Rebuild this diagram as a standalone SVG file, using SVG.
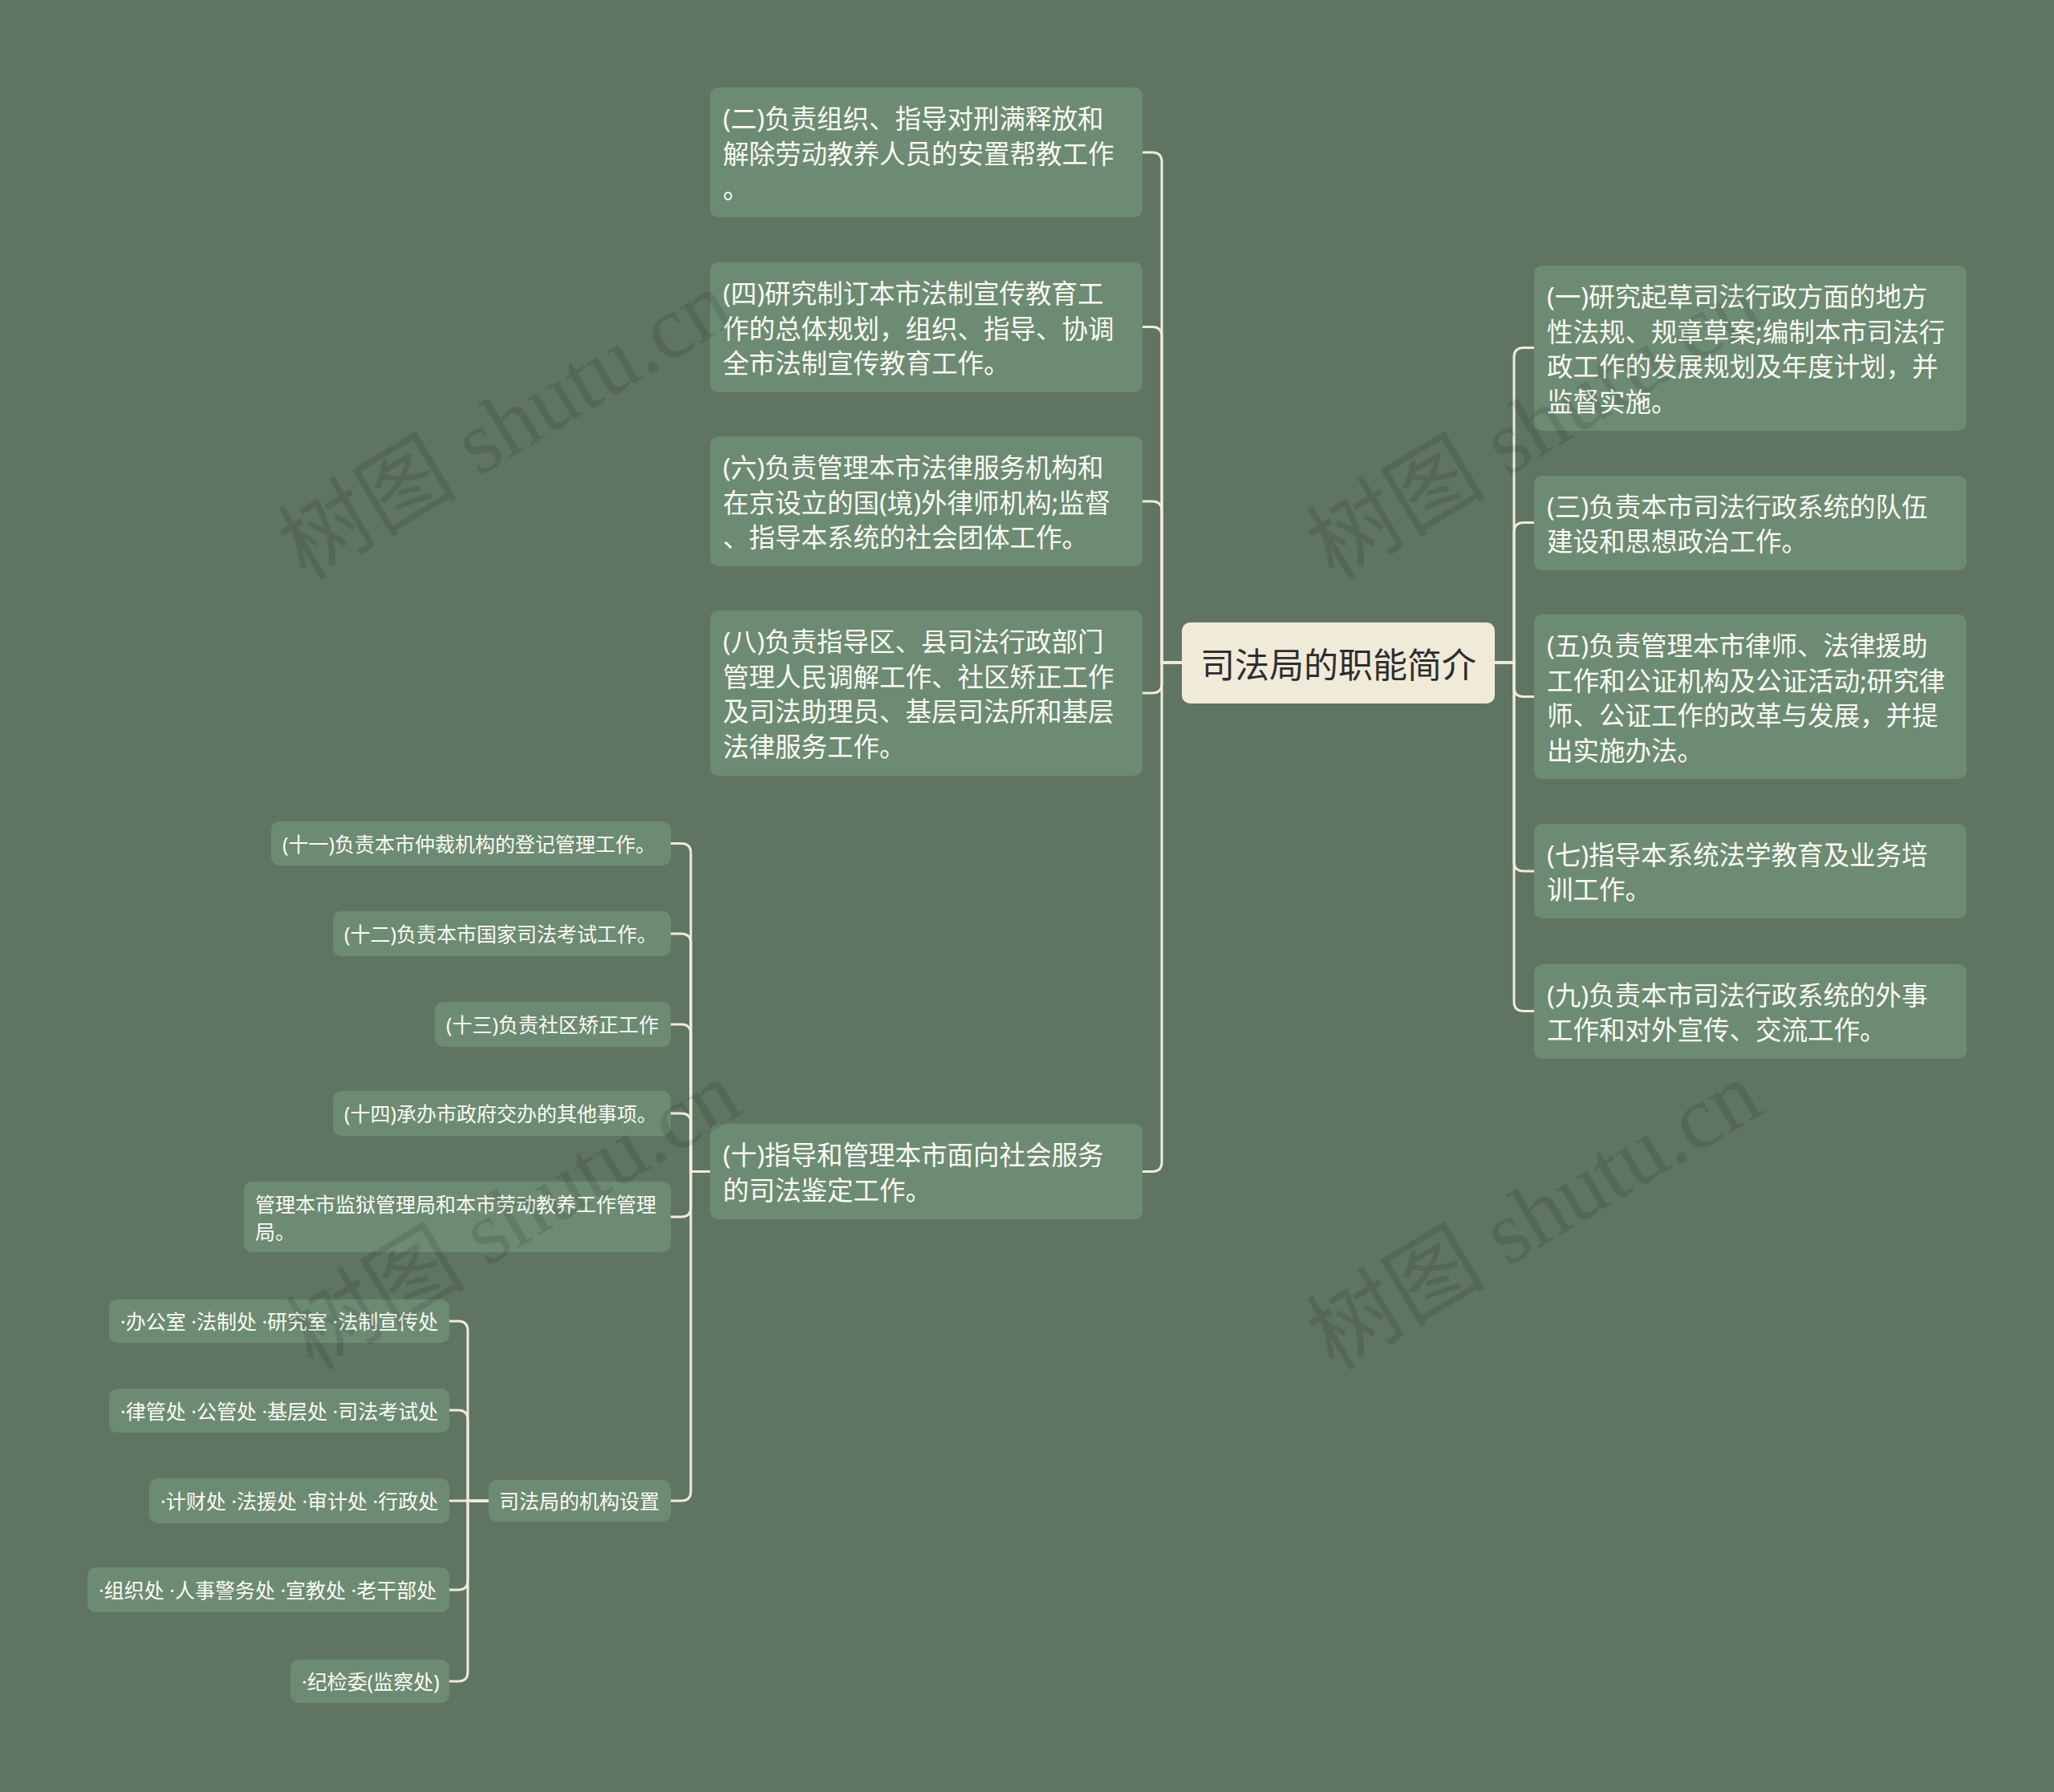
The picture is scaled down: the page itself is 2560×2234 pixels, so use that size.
<svg xmlns="http://www.w3.org/2000/svg" width="2560" height="2234" viewBox="0 0 2560 2234">
<style>
.bg{fill:#607462}
.n rect{fill:#6d8b73}
.t{font-family:"Noto Sans","Noto Sans CJK SC",sans-serif;fill:#fbfbf3;dominant-baseline:central}
.b{font-size:32.5px}
.s{font-size:25px}
.root rect{fill:#f0ead9}
.root text{font-family:"Noto Sans CJK SC","Noto Sans",sans-serif;font-size:43px;fill:#2e2e2e;dominant-baseline:central;text-anchor:middle}
.c path{fill:none;stroke:#f0ebdb;stroke-width:3;stroke-linecap:round}
.wm{font-family:"Liberation Serif","Noto Sans CJK SC",serif;font-size:112px;fill:#000;opacity:0.1;text-anchor:middle;dominant-baseline:central}
</style>
<rect class="bg" x="0" y="0" width="2560" height="2234"/>
<g class="c" id="connectors">
<path d="M1473 826 H1448 V202 Q1448 190 1436 190 H1425"/>
<path d="M1473 826 H1448 V419.5 Q1448 407.5 1436 407.5 H1425"/>
<path d="M1473 826 H1448 V637 Q1448 625 1436 625 H1425"/>
<path d="M1473 826 H1448 V852 Q1448 864 1436 864 H1425"/>
<path d="M1473 826 H1448 V1448.5 Q1448 1460.5 1436 1460.5 H1425"/>
<path d="M1863 826 H1887 V445.5 Q1887 433.5 1899 433.5 H1912"/>
<path d="M1863 826 H1887 V663.5 Q1887 651.5 1899 651.5 H1912"/>
<path d="M1863 826 H1887 V856.5 Q1887 868.5 1899 868.5 H1912"/>
<path d="M1863 826 H1887 V1074 Q1887 1086 1899 1086 H1912"/>
<path d="M1863 826 H1887 V1248.5 Q1887 1260.5 1899 1260.5 H1912"/>
<path d="M885 1460.5 H861 V1063.5 Q861 1051.5 849 1051.5 H836"/>
<path d="M885 1460.5 H861 V1176 Q861 1164 849 1164 H836"/>
<path d="M885 1460.5 H861 V1289 Q861 1277 849 1277 H836"/>
<path d="M885 1460.5 H861 V1400 Q861 1388 849 1388 H836"/>
<path d="M885 1460.5 H861 V1505 Q861 1517 849 1517 H836"/>
<path d="M885 1460.5 H861 V1859 Q861 1871 849 1871 H836"/>
<path d="M609 1871 H583 V1659 Q583 1647 571 1647 H560"/>
<path d="M609 1871 H583 V1770 Q583 1758 571 1758 H560"/>
<path d="M609 1871 H560"/>
<path d="M609 1871 H583 V1970 Q583 1982 571 1982 H560"/>
<path d="M609 1871 H583 V2084 Q583 2096 571 2096 H560"/>
</g>
<g class="root" id="node-root">
<rect x="1473" y="776" width="390" height="101" rx="10"/>
<text x="1668" y="826">司法局的职能简介</text>
</g>
<g class="n" id="node-2">
<rect x="885" y="109" width="539" height="162" rx="10"/>
<text class="t b" x="901"><tspan x="901" y="147">(二)负责组织、指导对刑满释放和</tspan><tspan x="901" y="190.5">解除劳动教养人员的安置帮教工作</tspan><tspan x="901" y="234">。</tspan></text>
</g>
<g class="n" id="node-4">
<rect x="885" y="327" width="539" height="162" rx="10"/>
<text class="t b" x="901"><tspan x="901" y="365">(四)研究制订本市法制宣传教育工</tspan><tspan x="901" y="408.5">作的总体规划，组织、指导、协调</tspan><tspan x="901" y="452">全市法制宣传教育工作。</tspan></text>
</g>
<g class="n" id="node-6">
<rect x="885" y="544" width="539" height="162" rx="10"/>
<text class="t b" x="901"><tspan x="901" y="582">(六)负责管理本市法律服务机构和</tspan><tspan x="901" y="625.5">在京设立的国(境)外律师机构;监督</tspan><tspan x="901" y="669">、指导本系统的社会团体工作。</tspan></text>
</g>
<g class="n" id="node-8">
<rect x="885" y="761" width="539" height="206" rx="10"/>
<text class="t b" x="901"><tspan x="901" y="799">(八)负责指导区、县司法行政部门</tspan><tspan x="901" y="842.5">管理人民调解工作、社区矫正工作</tspan><tspan x="901" y="886">及司法助理员、基层司法所和基层</tspan><tspan x="901" y="929.5">法律服务工作。</tspan></text>
</g>
<g class="n" id="node-10">
<rect x="885" y="1401" width="539" height="119" rx="10"/>
<text class="t b" x="901"><tspan x="901" y="1439">(十)指导和管理本市面向社会服务</tspan><tspan x="901" y="1482.5">的司法鉴定工作。</tspan></text>
</g>
<g class="n" id="node-1">
<rect x="1912" y="331" width="539" height="206" rx="10"/>
<text class="t b" x="1928"><tspan x="1928" y="369">(一)研究起草司法行政方面的地方</tspan><tspan x="1928" y="412.5">性法规、规章草案;编制本市司法行</tspan><tspan x="1928" y="456">政工作的发展规划及年度计划，并</tspan><tspan x="1928" y="499.5">监督实施。</tspan></text>
</g>
<g class="n" id="node-3">
<rect x="1912" y="593" width="539" height="118" rx="10"/>
<text class="t b" x="1928"><tspan x="1928" y="630.5">(三)负责本市司法行政系统的队伍</tspan><tspan x="1928" y="674">建设和思想政治工作。</tspan></text>
</g>
<g class="n" id="node-5">
<rect x="1912" y="766" width="539" height="205" rx="10"/>
<text class="t b" x="1928"><tspan x="1928" y="804">(五)负责管理本市律师、法律援助</tspan><tspan x="1928" y="847.5">工作和公证机构及公证活动;研究律</tspan><tspan x="1928" y="891">师、公证工作的改革与发展，并提</tspan><tspan x="1928" y="934.5">出实施办法。</tspan></text>
</g>
<g class="n" id="node-7">
<rect x="1912" y="1027" width="539" height="118" rx="10"/>
<text class="t b" x="1928"><tspan x="1928" y="1064.5">(七)指导本系统法学教育及业务培</tspan><tspan x="1928" y="1108">训工作。</tspan></text>
</g>
<g class="n" id="node-9">
<rect x="1912" y="1202" width="539" height="118" rx="10"/>
<text class="t b" x="1928"><tspan x="1928" y="1239.5">(九)负责本市司法行政系统的外事</tspan><tspan x="1928" y="1283">工作和对外宣传、交流工作。</tspan></text>
</g>
<g class="n" id="node-11">
<rect x="338" y="1024" width="498" height="55" rx="10"/>
<text class="t s" x="352" y="1051.5">(十一)负责本市仲裁机构的登记管理工作。</text>
</g>
<g class="n" id="node-12">
<rect x="415" y="1136" width="421" height="56" rx="10"/>
<text class="t s" x="429" y="1164">(十二)负责本市国家司法考试工作。</text>
</g>
<g class="n" id="node-13">
<rect x="542" y="1249" width="294" height="56" rx="10"/>
<text class="t s" x="556" y="1277">(十三)负责社区矫正工作</text>
</g>
<g class="n" id="node-14">
<rect x="415" y="1360" width="421" height="56" rx="10"/>
<text class="t s" x="429" y="1388">(十四)承办市政府交办的其他事项。</text>
</g>
<g class="n" id="node-prison">
<rect x="304" y="1473" width="532" height="88" rx="10"/>
<text class="t s" x="318"><tspan x="318" y="1501">管理本市监狱管理局和本市劳动教养工作管理</tspan><tspan x="318" y="1535">局。</tspan></text>
</g>
<g class="n" id="node-org">
<rect x="609" y="1845" width="227" height="52" rx="10"/>
<text class="t s" x="622" y="1871">司法局的机构设置</text>
</g>
<g class="n" id="node-org1">
<rect x="136" y="1620" width="424" height="54" rx="10"/>
<text class="t s" x="150" y="1647">·办公室 ·法制处 ·研究室 ·法制宣传处</text>
</g>
<g class="n" id="node-org2">
<rect x="136" y="1731" width="424" height="55" rx="10"/>
<text class="t s" x="150" y="1758.5">·律管处 ·公管处 ·基层处 ·司法考试处</text>
</g>
<g class="n" id="node-org3">
<rect x="186" y="1843" width="374" height="56" rx="10"/>
<text class="t s" x="200" y="1871">·计财处 ·法援处 ·审计处 ·行政处</text>
</g>
<g class="n" id="node-org4">
<rect x="109" y="1954" width="451" height="56" rx="10"/>
<text class="t s" x="123" y="1982">·组织处 ·人事警务处 ·宣教处 ·老干部处</text>
</g>
<g class="n" id="node-org5">
<rect x="362" y="2069" width="198" height="54" rx="10"/>
<text class="t s" x="376" y="2096">·纪检委(监察处)</text>
</g>
<g id="watermarks">
<text class="wm" transform="translate(630 530) rotate(-31)">树图 shutu.cn</text>
<text class="wm" transform="translate(1912 530) rotate(-31)">树图 shutu.cn</text>
<text class="wm" transform="translate(640 1515) rotate(-31)">树图 shutu.cn</text>
<text class="wm" transform="translate(1912 1515) rotate(-31)">树图 shutu.cn</text>
</g>
</svg>
